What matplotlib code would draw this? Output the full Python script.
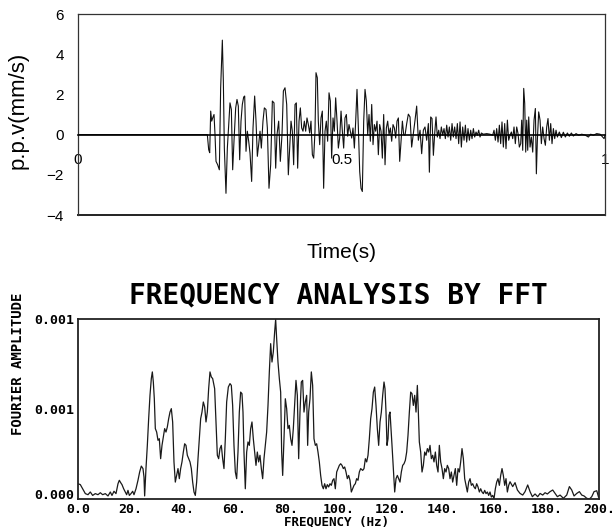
import numpy as np
import matplotlib.pyplot as plt

plt.rcParams['font.family'] = ['Liberation Sans', 'DejaVu Sans']

# ---------------------------------------------------------------------------
# Particle velocity record (s, mm/s)
# ---------------------------------------------------------------------------
time_s = [
    0.0, 0.2454, 0.2480, 0.2499, 0.2518, 0.2537, 0.2556, 0.2581, 0.2600, 0.2619,
    0.2650, 0.2682, 0.2707, 0.2739, 0.2758, 0.2777, 0.2808, 0.2834, 0.2859, 0.2884,
    0.2910, 0.2935, 0.2960, 0.2992, 0.3017, 0.3042, 0.3068, 0.3093, 0.3118, 0.3144,
    0.3163, 0.3188, 0.3213, 0.3239, 0.3264, 0.3295, 0.3321, 0.3352, 0.3378, 0.3403,
    0.3428, 0.3454, 0.3479, 0.3510, 0.3536, 0.3567, 0.3593, 0.3624, 0.3656, 0.3688,
    0.3719, 0.3751, 0.3776, 0.3808, 0.3839, 0.3871, 0.3897, 0.3928, 0.3960, 0.3991,
    0.4017, 0.4042, 0.4067, 0.4092, 0.4118, 0.4143, 0.4168, 0.4194, 0.4219, 0.4244,
    0.4269, 0.4295, 0.4320, 0.4345, 0.4371, 0.4396, 0.4421, 0.4447, 0.4472, 0.4497,
    0.4516, 0.4541, 0.4560, 0.4586, 0.4611, 0.4636, 0.4661, 0.4687, 0.4712, 0.4737,
    0.4763, 0.4788, 0.4813, 0.4839, 0.4864, 0.4889, 0.4915, 0.4940, 0.4965, 0.4991,
    0.5016, 0.5041, 0.5066, 0.5092, 0.5117, 0.5142, 0.5168, 0.5193, 0.5218, 0.5244,
    0.5269, 0.5294, 0.5320, 0.5345, 0.5370, 0.5395, 0.5421, 0.5446, 0.5471, 0.5497,
    0.5522, 0.5547, 0.5573, 0.5598, 0.5623, 0.5648, 0.5674, 0.5699, 0.5724, 0.5750,
    0.5775, 0.5800, 0.5826, 0.5851, 0.5876, 0.5902, 0.5927, 0.5952, 0.5977, 0.6003,
    0.6028, 0.6053, 0.6079, 0.6104, 0.6129, 0.6155, 0.6180, 0.6205, 0.6237, 0.6268,
    0.6300, 0.6331, 0.6363, 0.6395, 0.6426, 0.6458, 0.6490, 0.6521, 0.6553, 0.6584,
    0.6616, 0.6648, 0.6667, 0.6692, 0.6717, 0.6743, 0.6768, 0.6793, 0.6818, 0.6844,
    0.6869, 0.6894, 0.6920, 0.6945, 0.6970, 0.6996, 0.7021, 0.7046, 0.7072, 0.7097,
    0.7122, 0.7147, 0.7173, 0.7198, 0.7223, 0.7249, 0.7274, 0.7299, 0.7325, 0.7350,
    0.7375, 0.7400, 0.7426, 0.7451, 0.7476, 0.7502, 0.7527, 0.7552, 0.7578, 0.7603,
    0.7628, 0.7653, 0.7691, 0.7755, 0.7818, 0.7868, 0.7894, 0.7919, 0.7944, 0.7970,
    0.7995, 0.8020, 0.8045, 0.8071, 0.8096, 0.8121, 0.8147, 0.8172, 0.8197, 0.8223,
    0.8248, 0.8273, 0.8298, 0.8324, 0.8349, 0.8374, 0.8400, 0.8419, 0.8438, 0.8457,
    0.8476, 0.8495, 0.8514, 0.8533, 0.8552, 0.8577, 0.8602, 0.8628, 0.8653, 0.8678,
    0.8697, 0.8716, 0.8741, 0.8767, 0.8792, 0.8817, 0.8843, 0.8868, 0.8893, 0.8918,
    0.8944, 0.8969, 0.8994, 0.9020, 0.9045, 0.9070, 0.9096, 0.9133, 0.9171, 0.9209,
    0.9247, 0.9285, 0.9323, 0.9361, 0.9399, 0.9450, 0.9500, 0.9557, 0.9621, 0.9684,
    0.9728, 0.9779, 0.9842, 0.9906, 0.9956, 0.9982, 1.0000,
]
ppv_mm_s = [
    0.0, 0.0, -0.75, -0.90, 1.17, 0.67, 0.83, 1.00, 0.00, -1.33,
    -1.50, -1.75, 2.33, 4.70, 2.67, -0.67, -2.92, -0.67, 0.50, 1.58,
    1.25, -1.75, -0.33, 1.33, 1.75, 1.42, -1.25, 0.67, 1.50, 1.87,
    1.92, -0.83, 0.17, -0.33, -0.92, -2.33, 0.33, 1.92, 0.67, -1.08,
    -0.50, 0.17, -0.67, 0.67, 1.33, 1.25, 0.33, -2.67, -1.50, 1.67,
    1.58, -1.67, 0.00, 0.67, -1.33, 0.00, 2.17, 2.33, 1.50, -2.00,
    -0.67, 0.67, 0.17, -1.50, 1.50, 1.58, -1.67, 0.67, 1.33, 0.33,
    0.17, 0.67, 0.17, 0.83, 0.50, 0.08, 0.67, -1.00, -1.17, 0.17,
    3.08, 2.83, 0.67, -0.50, 0.83, 1.17, -2.67, 0.17, 0.67, -0.33,
    2.08, 1.67, -1.17, 0.83, 0.17, 1.83, 0.67, -0.67, -0.17, 1.17,
    0.17, -0.67, 0.83, 1.00, -0.08, 0.50, 0.17, -0.17, 0.33, -0.67,
    0.67, 2.25, 0.33, -1.83, -2.67, -2.83, 0.67, 2.25, 1.67, 0.00,
    1.00, -0.33, 1.50, -0.50, 0.50, 0.17, 0.67, -1.00, 0.50, 0.17,
    -1.17, 1.00, -1.50, 0.33, 0.67, 0.00, 0.33, -0.33, 0.50, 0.33,
    -0.17, 0.67, 0.83, -1.33, -0.33, 0.67, 0.00, -0.03, 0.55, 1.02,
    0.88, -0.62, 0.05, 0.72, 1.42, -0.28, 0.22, -0.95, 0.22, 0.38,
    -0.28, 0.55, -1.87, 0.88, 0.80, -1.03, 0.05, 0.88, -0.12, 0.22,
    -0.20, 0.38, -0.03, 0.30, -0.20, 0.47, -0.12, 0.38, -0.28, 0.55,
    -0.12, 0.38, -0.20, 0.55, -0.45, 0.63, -0.62, 0.38, -0.28, 0.47,
    -0.37, 0.30, -0.28, 0.22, -0.20, 0.30, -0.12, 0.13, -0.03, 0.22,
    -0.12, 0.08, 0.02, 0.05, 0.02, -0.03, 0.22, -0.28, 0.30, -0.37,
    0.47, -0.45, 0.63, -0.62, 0.55, -0.70, 0.72, -0.28, -0.03, 0.13,
    -0.20, 0.38, -0.45, 0.38, 0.05, -0.62, -0.45, 0.72, -0.78, 2.30,
    1.55, -0.87, 0.72, -0.78, 0.88, -0.62, -0.12, -0.87, 0.72, 1.30,
    -1.95, -0.28, 1.13, 0.72, -0.45, 0.38, -0.20, -0.53, 0.38, 0.80,
    -0.28, 0.55, -0.45, 0.30, -0.20, 0.22, -0.12, 0.13, -0.15, 0.12,
    -0.12, 0.08, -0.08, 0.08, -0.07, 0.05, -0.03, 0.02, -0.02, -0.12,
    0.02, -0.03, 0.05, 0.02, -0.12, -0.20, -0.03,
]

# ---------------------------------------------------------------------------
# FFT spectrum (Hz, Fourier amplitude x 1e-3)
# ---------------------------------------------------------------------------
freq_hz = [
    0.00, 0.90, 1.79, 2.82, 3.84, 4.73, 5.63, 6.65, 7.68, 8.57,
    9.47, 10.49, 11.52, 12.41, 13.05, 13.82, 14.59, 15.36, 15.87, 16.38,
    16.89, 17.53, 18.17, 18.68, 19.19, 19.71, 20.35, 20.99, 21.50, 22.27,
    23.03, 23.67, 24.31, 24.95, 25.34, 25.59, 26.10, 26.62, 27.13, 27.64,
    28.15, 28.54, 28.92, 29.30, 29.69, 30.20, 30.71, 31.22, 31.73, 32.25,
    32.76, 33.27, 33.78, 34.29, 34.81, 35.32, 35.83, 36.34, 36.85, 37.36,
    37.88, 38.39, 38.90, 39.41, 39.92, 40.44, 40.95, 41.46, 41.97, 42.48,
    43.00, 43.51, 44.02, 44.53, 45.04, 45.55, 46.07, 46.58, 47.09, 47.60,
    48.11, 48.63, 49.14, 49.65, 50.16, 50.67, 51.18, 51.70, 52.46, 52.97,
    53.49, 54.00, 54.51, 55.02, 55.53, 56.04, 56.56, 57.07, 57.71, 58.35,
    58.86, 59.37, 59.88, 60.40, 60.91, 61.42, 61.93, 62.44, 62.95, 63.34,
    63.72, 64.23, 64.75, 65.26, 65.77, 66.28, 66.79, 67.30, 67.82, 68.33,
    68.84, 69.35, 69.86, 70.38, 70.89, 71.40, 71.91, 72.42, 72.94, 73.45,
    73.96, 74.47, 74.98, 75.49, 75.88, 76.26, 76.77, 77.29, 77.80, 78.18,
    78.57, 79.08, 79.59, 80.10, 80.61, 81.12, 81.64, 82.15, 82.66, 83.17,
    83.68, 84.20, 84.71, 85.22, 85.73, 86.24, 86.75, 87.27, 87.78, 88.16,
    88.55, 89.06, 89.57, 90.08, 90.59, 91.11, 91.62, 92.13, 92.64, 93.15,
    93.67, 94.18, 94.69, 95.20, 95.71, 96.22, 96.74, 97.25, 97.76, 98.27,
    98.78, 99.30, 99.81, 100.32, 100.83, 101.34, 101.85, 102.37, 102.88, 103.39,
    103.90, 104.41, 104.93, 105.44, 105.95, 106.46, 106.97, 107.49, 108.00, 108.51,
    109.28, 109.79, 110.31, 110.82, 111.33, 111.84, 112.35, 112.86, 113.38, 113.89,
    114.40, 114.91, 115.42, 115.94, 116.45, 116.96, 117.47, 117.85, 118.24, 118.62,
    119.01, 119.39, 119.77, 120.16, 120.54, 121.05, 121.57, 122.08, 122.59, 123.10,
    123.61, 124.12, 124.64, 125.15, 125.66, 126.17, 126.68, 127.20, 127.71, 128.22,
    128.73, 129.24, 129.76, 130.27, 130.65, 131.03, 131.55, 132.06, 132.57, 133.08,
    133.59, 134.11, 134.62, 135.13, 135.64, 136.15, 136.66, 137.18, 137.69, 138.20,
    138.71, 139.22, 139.74, 140.25, 140.76, 141.27, 141.78, 142.30, 142.81, 143.32,
    143.83, 144.34, 144.85, 145.37, 145.88, 146.39, 146.90, 147.41, 147.93, 148.44,
    148.95, 149.46, 149.97, 150.49, 151.00, 151.51, 152.02, 152.53, 153.04, 153.56,
    154.07, 154.58, 155.09, 155.60, 156.12, 156.63, 157.14, 157.65, 158.16, 158.67,
    159.19, 159.70, 160.21, 160.72, 161.23, 161.75, 162.26, 162.77, 163.28, 163.79,
    164.30, 164.82, 165.33, 165.85, 166.87, 167.77, 168.67, 169.69, 170.71, 171.61,
    172.63, 173.53, 174.42, 175.45, 176.47, 177.37, 178.39, 179.29, 180.18, 181.21,
    182.23, 183.13, 184.02, 185.05, 186.33, 187.61, 188.63, 189.53, 190.42, 191.45,
    192.47, 193.37, 194.26, 195.29, 196.31, 197.21, 198.10, 199.13, 199.77,
]
amp_e3 = [
    0.085, 0.080, 0.057, 0.030, 0.024, 0.039, 0.020, 0.030, 0.024, 0.035,
    0.024, 0.030, 0.017, 0.039, 0.020, 0.043, 0.030, 0.085, 0.104, 0.091,
    0.080, 0.057, 0.039, 0.024, 0.048, 0.020, 0.030, 0.043, 0.024, 0.057,
    0.104, 0.150, 0.183, 0.169, 0.122, 0.017, 0.169, 0.298, 0.446, 0.576,
    0.669, 0.706, 0.650, 0.557, 0.391, 0.372, 0.326, 0.335, 0.224, 0.298,
    0.344, 0.391, 0.372, 0.400, 0.446, 0.483, 0.502, 0.428, 0.206, 0.094,
    0.131, 0.169, 0.113, 0.169, 0.206, 0.261, 0.307, 0.298, 0.243, 0.224,
    0.206, 0.169, 0.094, 0.039, 0.020, 0.094, 0.224, 0.335, 0.446, 0.483,
    0.539, 0.511, 0.428, 0.483, 0.613, 0.706, 0.678, 0.669, 0.613, 0.428,
    0.243, 0.224, 0.280, 0.298, 0.224, 0.169, 0.335, 0.539, 0.622, 0.641,
    0.631, 0.520, 0.298, 0.150, 0.113, 0.261, 0.483, 0.594, 0.585, 0.483,
    0.261, 0.057, 0.261, 0.317, 0.298, 0.391, 0.428, 0.335, 0.261, 0.187,
    0.261, 0.206, 0.243, 0.169, 0.113, 0.224, 0.298, 0.372, 0.520, 0.706,
    0.863, 0.761, 0.817, 0.928, 0.998, 0.891, 0.761, 0.669, 0.594, 0.261,
    0.131, 0.335, 0.557, 0.502, 0.391, 0.409, 0.335, 0.298, 0.391, 0.520,
    0.659, 0.576, 0.224, 0.483, 0.650, 0.659, 0.483, 0.539, 0.576, 0.298,
    0.483, 0.557, 0.706, 0.631, 0.335, 0.298, 0.307, 0.261, 0.206, 0.131,
    0.076, 0.057, 0.085, 0.057, 0.080, 0.067, 0.085, 0.076, 0.104, 0.113,
    0.057, 0.150, 0.169, 0.187, 0.196, 0.187, 0.169, 0.178, 0.150, 0.113,
    0.131, 0.104, 0.039, 0.057, 0.076, 0.085, 0.113, 0.104, 0.150, 0.169,
    0.159, 0.169, 0.224, 0.206, 0.243, 0.335, 0.446, 0.502, 0.594, 0.622,
    0.520, 0.391, 0.298, 0.428, 0.483, 0.576, 0.650, 0.613, 0.483, 0.298,
    0.335, 0.465, 0.483, 0.391, 0.298, 0.169, 0.039, 0.113, 0.131, 0.113,
    0.094, 0.150, 0.187, 0.196, 0.215, 0.261, 0.354, 0.483, 0.594, 0.585,
    0.520, 0.576, 0.483, 0.631, 0.483, 0.317, 0.261, 0.150, 0.187, 0.261,
    0.243, 0.280, 0.261, 0.298, 0.224, 0.243, 0.206, 0.261, 0.187, 0.150,
    0.298, 0.206, 0.169, 0.113, 0.169, 0.150, 0.187, 0.169, 0.113, 0.150,
    0.094, 0.131, 0.169, 0.076, 0.169, 0.150, 0.206, 0.280, 0.224, 0.113,
    0.076, 0.039, 0.094, 0.113, 0.076, 0.085, 0.067, 0.057, 0.085, 0.067,
    0.039, 0.057, 0.039, 0.030, 0.048, 0.030, 0.039, 0.020, 0.039, 0.011,
    0.020, 0.002, 0.057, 0.094, 0.113, 0.076, 0.131, 0.169, 0.131, 0.076,
    0.113, 0.039, 0.076, 0.096, 0.069, 0.091, 0.050, 0.031, 0.022, 0.041,
    0.078, 0.041, 0.013, 0.028, 0.013, 0.031, 0.022, 0.035, 0.028, 0.041,
    0.050, 0.031, 0.013, 0.022, 0.004, 0.022, 0.069, 0.050, 0.017, 0.031,
    0.041, 0.022, 0.017, 0.004, 0.000, 0.013, 0.041, 0.046, 0.013,
]

top_xticks = [0, 0.5, 1]
top_xticklabels = ['0', '0.5', '1']
top_yticks = [-4, -2, 0, 2, 4, 6]

fft_xticks = [0, 20, 40, 60, 80, 100, 120, 140, 160, 180, 200]
fft_xticklabels = ['0.0', '20.', '40.', '60.', '80.', '100.', '120.', '140.',
                   '160.', '180.', '200.']
fft_yticks = [0.0, 0.0005, 0.001]
fft_yticklabels = ['0.000', '0.001', '0.001']

MONO = dict(family='DejaVu Sans Mono', weight='bold')

fig = plt.figure(figsize=(6.15, 5.27), dpi=100)

# ---------------- time history ----------------
ax1 = fig.add_axes([0.1268, 0.592, 0.857, 0.3814])
ax1.plot(time_s, ppv_mm_s, color='#111111', lw=0.8)
ax1.set_xlim(0, 1)
ax1.set_ylim(-4, 6)
ax1.spines['bottom'].set_position(('data', 0))
ax1.spines['bottom'].set_linewidth(1.2)
for s in ['top', 'left', 'right']:
    ax1.spines[s].set_linewidth(0.9)
    ax1.spines[s].set_color('#333333')
ax1.axhline(-4, color='#222222', lw=1.4, clip_on=False)
ax1.set_xticks(top_xticks)
ax1.set_xticklabels(top_xticklabels)
ax1.set_yticks(top_yticks)
ax1.tick_params(axis='x', length=0, pad=13, labelsize=11)
ax1.tick_params(axis='y', length=0, pad=10, labelsize=11)
fig.text(0.029, 0.79, 'p.p.v(mm/s)', rotation=90, ha='center', va='center', fontsize=16)
fig.text(0.5545, 0.520, 'Time(s)', ha='center', va='center', fontsize=15)

# ---------------- FFT spectrum ----------------
ax2 = fig.add_axes([0.1268, 0.0531, 0.8472, 0.3416])
ax2.plot(freq_hz, np.array(amp_e3) * 1e-3, color='#1a1a1a', lw=0.9)
ax2.set_xlim(0, 200)
ax2.set_ylim(0, 0.001)
for s in ax2.spines.values():
    s.set_linewidth(1.3)
    s.set_color('#222222')
ax2.set_xticks(fft_xticks)
ax2.set_xticklabels(fft_xticklabels, fontsize=9.5, **MONO)
ax2.set_yticks(fft_yticks)
ax2.set_yticklabels(fft_yticklabels, fontsize=9.5, **MONO)
ax2.get_yticklabels()[0].set_verticalalignment('baseline')
ax2.tick_params(axis='x', length=0, pad=3)
ax2.tick_params(axis='y', length=0, pad=3)
fig.text(0.5505, 0.440, 'FREQUENCY ANALYSIS BY FFT', ha='center', va='center',
         fontsize=20, **MONO)
fig.text(0.029, 0.309, 'FOURIER AMPLITUDE', rotation=90, ha='center', va='center',
         fontsize=10, **MONO)
fig.text(0.547, 0.0105, 'FREQUENCY (Hz)', ha='center', va='center', fontsize=9, **MONO)

fig.savefig('out.png', dpi=100)
